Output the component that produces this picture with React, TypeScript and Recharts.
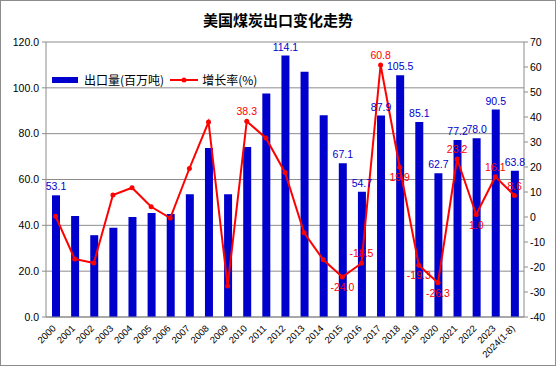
import {
  ComposedChart,
  Bar,
  Line,
  XAxis,
  YAxis,
  CartesianGrid,
  LabelList,
} from "recharts";

const years = [
  "2000", "2001", "2002", "2003", "2004", "2005", "2006", "2007", "2008",
  "2009", "2010", "2011", "2012", "2013", "2014", "2015", "2016", "2017",
  "2018", "2019", "2020", "2021", "2022", "2023", "2024(1-8)",
];
const exportVolume = [
  53.1, 44.1, 35.7, 38.9, 43.6, 45.4, 45.0, 53.6, 73.8, 53.6, 74.2, 97.5,
  114.1, 107.0, 88.0, 67.1, 54.7, 87.9, 105.5, 85.1, 62.7, 77.2, 78.0, 90.5, 63.8,
];
const growthRate = [
  0.3, -16.8, -18.4, 8.8, 11.7, 4.1, -0.4, 19.4, 38.0, -27.6, 38.3, 31.6,
  17.8, -6.3, -17.1, -24.0, -18.5, 60.8, 19.9, -19.3, -26.3, 23.2, 1.0, 16.1, 8.6,
];
// which years get a value label
const volumeLabelYears = [
  "2000", "2012", "2015", "2016", "2017", "2018", "2019", "2020", "2021",
  "2022", "2023", "2024(1-8)",
];
const rateLabelYears = [
  "2010", "2015", "2016", "2017", "2018", "2019", "2020", "2021", "2022",
  "2023", "2024(1-8)",
];
const rateLabelBelow = ["2015", "2018", "2019", "2020", "2022"];

const leftTicks = [0, 20, 40, 60, 80, 100, 120];
const rightTicks = [-40, -30, -20, -10, 0, 10, 20, 30, 40, 50, 60, 70];

const data = years.map((year, i) => ({
  year,
  volume: exportVolume[i],
  rate: growthRate[i],
}));

const numFont = "'Liberation Sans', Arial, sans-serif";
const cjkFont = "'Noto Sans CJK SC', sans-serif";
const BLUE = "#0000cc";
const RED = "#ff0000";
const GRID = "#8c8c8c";

const XTick = (props: any) => {
  const { x, y, payload } = props;
  return (
    <g transform={`translate(${x + 1},${y + 10})`}>
      <text
        x={0}
        y={0}
        textAnchor="end"
        transform="rotate(-45)"
        fontSize={9.5}
        fontFamily={numFont}
        fill="#000"
      >
        {payload.value}
      </text>
    </g>
  );
};

const VolumeLabel = (props: any) => {
  const { x, y, width, index } = props;
  if (!volumeLabelYears.includes(years[index])) return null;
  return (
    <text
      x={x + width / 2}
      y={y - 5}
      textAnchor="middle"
      fontSize={10.5}
      fontFamily={numFont}
      fill={BLUE}
    >
      {exportVolume[index].toFixed(1)}
    </text>
  );
};

const RateLabel = (props: any) => {
  const { x, y, index } = props;
  const year = years[index];
  if (!rateLabelYears.includes(year)) return null;
  const below = rateLabelBelow.includes(year);
  return (
    <text
      x={x}
      y={below ? y + 14 : y - 6}
      textAnchor="middle"
      fontSize={10.5}
      fontFamily={numFont}
      fill={RED}
    >
      {growthRate[index].toFixed(1)}
    </text>
  );
};

const LegendBox = () => (
  <div
    style={{
      position: "absolute",
      top: 71,
      left: 52,
      display: "flex",
      alignItems: "center",
      fontFamily: cjkFont,
      fontSize: 12,
      color: "#000",
    }}
  >
    <span style={{ width: 26, height: 6, background: BLUE, marginRight: 6 }} />
    <span style={{ marginRight: 6 }}>出口量(百万吨)</span>
    <svg width={28} height={8} style={{ marginRight: 4 }}>
      <line x1={0} y1={4} x2={28} y2={4} stroke={RED} strokeWidth={2} />
      <circle cx={14} cy={4} r={2.5} fill={RED} />
    </svg>
    <span>增长率(%)</span>
  </div>
);

export default function App() {
  return (
    <div
      style={{
        position: "absolute",
        left: 0,
        top: 0,
        width: 556,
        height: 366,
        background: "#fff",
      }}
    >
      <div
        style={{
          position: "absolute",
          top: 9,
          width: 556,
          textAlign: "center",
          fontFamily: cjkFont,
          fontWeight: "bold",
          fontSize: 15,
          color: "#000",
        }}
      >
        美国煤炭出口变化走势
      </div>
      <ComposedChart
        width={556}
        height={366}
        data={data}
        margin={{ top: 42, right: 0, bottom: 0, left: 0 }}
        barCategoryGap={0}
      >
        <CartesianGrid stroke={GRID} vertical={false} yAxisId="left" />
        <XAxis
          dataKey="year"
          interval={0}
          height={49}
          tickSize={0}
          tick={<XTick />}
          axisLine={{ stroke: GRID }}
        />
        <YAxis
          yAxisId="left"
          width={46}
          domain={[0, 120]}
          ticks={leftTicks}
          tickFormatter={(v: number) => v.toFixed(1)}
          tick={{ fontSize: 10.5, fontFamily: numFont, fill: "#000" }}
          tickSize={4}
          tickMargin={3}
          tickLine={{ stroke: GRID }}
          axisLine={{ stroke: GRID }}
        />
        <YAxis
          yAxisId="right"
          orientation="right"
          width={32}
          domain={[-40, 70]}
          ticks={rightTicks}
          tick={{ fontSize: 10.5, fontFamily: numFont, fill: "#000" }}
          tickSize={4}
          tickMargin={2}
          tickLine={{ stroke: GRID }}
          axisLine={{ stroke: GRID }}
        />
        <Bar
          yAxisId="left"
          dataKey="volume"
          fill={BLUE}
          barSize={8}
          isAnimationActive={false}
        >
          <LabelList dataKey="volume" content={<VolumeLabel />} />
        </Bar>
        <Line
          yAxisId="right"
          dataKey="rate"
          type="linear"
          stroke={RED}
          strokeWidth={2}
          dot={{ r: 2.5, fill: RED, stroke: RED, strokeWidth: 0 }}
          isAnimationActive={false}
        >
          <LabelList dataKey="rate" content={<RateLabel />} />
        </Line>
      </ComposedChart>
      <LegendBox />
      <div
        style={{
          position: "absolute",
          left: 0,
          top: 0,
          width: 556,
          height: 366,
          boxSizing: "border-box",
          border: "1px solid #8c8c8c",
          pointerEvents: "none",
        }}
      />
    </div>
  );
}
